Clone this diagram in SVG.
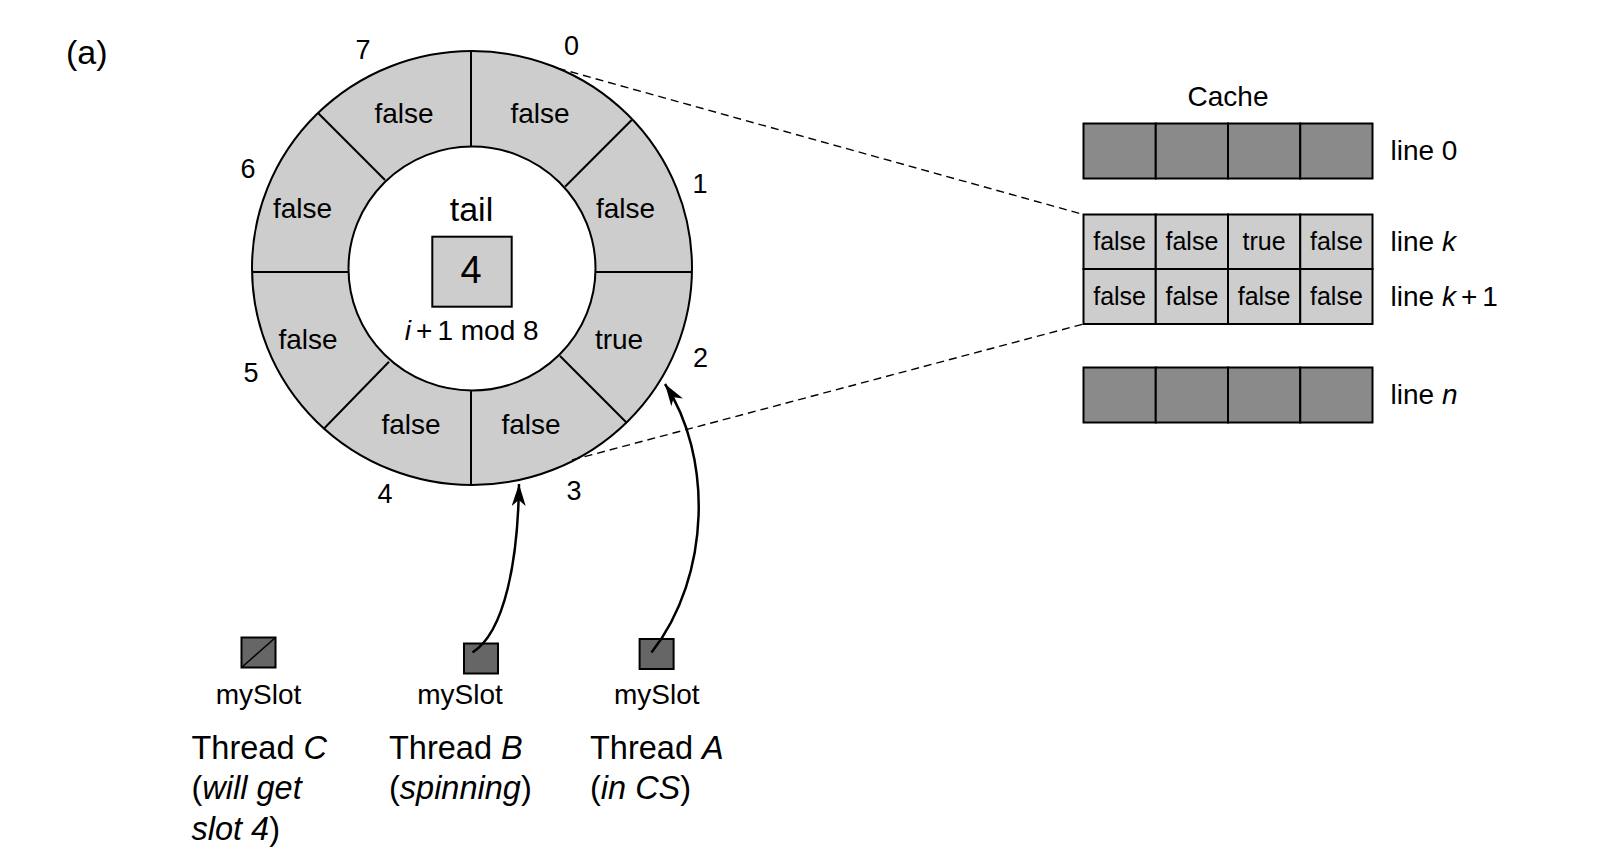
<svg xmlns="http://www.w3.org/2000/svg" width="1603" height="868" viewBox="0 0 1603 868">
<style>
text{font-family:"Liberation Sans",Arial,sans-serif;fill:#000}
.ring{font-size:28px;text-anchor:middle}
.num{font-size:27px;text-anchor:middle}
.cell{font-size:25px;text-anchor:middle}
.lbl{font-size:28px}
.thr{font-size:32.5px}
.ms{font-size:28px;text-anchor:middle}
.it{font-style:italic}
.div{stroke:#000;stroke-width:2;fill:none}
.light{fill:#cdcdcd;stroke:#000;stroke-width:2}
.dark{fill:#8a8a8a;stroke:#000;stroke-width:2}
.slot{fill:#666;stroke:#000;stroke-width:2}
.dash{stroke:#000;stroke-width:1.4;stroke-dasharray:8 5;fill:none}
.arr{stroke:#000;stroke-width:2.5;fill:none;marker-end:url(#ah)}
</style>
<defs>
<marker id="ah" markerUnits="userSpaceOnUse" markerWidth="24" markerHeight="14" refX="22" refY="7" orient="auto">
<path d="M0,0 L22,7 L0,14 L6,7 z" fill="#000"/>
</marker>
</defs>
<rect width="1603" height="868" fill="#fff"/>
<text x="66" y="64" style="font-size:34px">(a)</text>
<g id="ring">
<ellipse cx="472" cy="268" rx="220" ry="217" class="light"/>
<ellipse cx="472" cy="268.5" rx="123.5" ry="122" fill="#fff" stroke="#000" stroke-width="2"/>
<line x1="471" y1="51" x2="471" y2="146.5" class="div"/>
<line x1="471" y1="390.5" x2="471" y2="485" class="div"/>
<line x1="252" y1="272" x2="348.5" y2="272" class="div"/>
<line x1="595.5" y1="272" x2="692" y2="272" class="div"/>
<line x1="565" y1="186.7" x2="631.7" y2="120" class="div"/>
<line x1="385" y1="180" x2="318.3" y2="113.3" class="div"/>
<line x1="389" y1="361.7" x2="324.3" y2="428.3" class="div"/>
<line x1="560" y1="356" x2="626.7" y2="422.7" class="div"/>
<text class="ring" x="404" y="122.5">false</text>
<text class="ring" x="540" y="122.5">false</text>
<text class="ring" x="302.5" y="217.5">false</text>
<text class="ring" x="625.5" y="217.5">false</text>
<text class="ring" x="308" y="348.5">false</text>
<text class="ring" x="619" y="348.5">true</text>
<text class="ring" x="411" y="434">false</text>
<text class="ring" x="531" y="434">false</text>
<text class="num" x="363" y="59">7</text>
<text class="num" x="571.5" y="55">0</text>
<text class="num" x="248" y="177.5">6</text>
<text class="num" x="700" y="193">1</text>
<text class="num" x="251" y="382">5</text>
<text class="num" x="700.5" y="366.5">2</text>
<text class="num" x="385" y="503">4</text>
<text class="num" x="574" y="499.5">3</text>
</g>
<g id="tail">
<text x="471.5" y="220.5" style="font-size:34px;text-anchor:middle">tail</text>
<rect x="432.3" y="236.7" width="79.4" height="70" class="light"/>
<text x="471" y="282.5" style="font-size:38px;text-anchor:middle">4</text>
<text x="471.7" y="340" style="font-size:28px;text-anchor:middle"><tspan class="it">i</tspan><tspan dx="5">+</tspan><tspan dx="5">1 mod 8</tspan></text>
</g>
<g id="cache">
<text x="1228" y="105.5" class="lbl" text-anchor="middle">Cache</text>
<g id="line0">
<rect x="1083.5" y="123.5" width="72.25" height="55" class="dark"/>
<rect x="1155.75" y="123.5" width="72.25" height="55" class="dark"/>
<rect x="1228" y="123.5" width="72.25" height="55" class="dark"/>
<rect x="1300.25" y="123.5" width="72.25" height="55" class="dark"/>
<text x="1390.5" y="160" class="lbl">line 0</text>
</g>
<g id="linek">
<rect x="1083.5" y="214.5" width="72.25" height="54.5" class="light"/>
<rect x="1155.75" y="214.5" width="72.25" height="54.5" class="light"/>
<rect x="1228" y="214.5" width="72.25" height="54.5" class="light"/>
<rect x="1300.25" y="214.5" width="72.25" height="54.5" class="light"/>
<text class="cell" x="1119.6" y="250">false</text>
<text class="cell" x="1191.9" y="250">false</text>
<text class="cell" x="1264.1" y="250">true</text>
<text class="cell" x="1336.4" y="250">false</text>
<text x="1390.5" y="251" class="lbl">line <tspan class="it">k</tspan></text>
</g>
<g id="linek1">
<rect x="1083.5" y="269" width="72.25" height="55" class="light"/>
<rect x="1155.75" y="269" width="72.25" height="55" class="light"/>
<rect x="1228" y="269" width="72.25" height="55" class="light"/>
<rect x="1300.25" y="269" width="72.25" height="55" class="light"/>
<text class="cell" x="1119.6" y="305">false</text>
<text class="cell" x="1191.9" y="305">false</text>
<text class="cell" x="1264.1" y="305">false</text>
<text class="cell" x="1336.4" y="305">false</text>
<text x="1390.5" y="305.5" class="lbl">line <tspan class="it">k</tspan><tspan dx="5">+</tspan><tspan dx="5">1</tspan></text>
</g>
<g id="linen">
<rect x="1083.5" y="367.5" width="72.25" height="55" class="dark"/>
<rect x="1155.75" y="367.5" width="72.25" height="55" class="dark"/>
<rect x="1228" y="367.5" width="72.25" height="55" class="dark"/>
<rect x="1300.25" y="367.5" width="72.25" height="55" class="dark"/>
<text x="1390.5" y="403.5" class="lbl">line <tspan class="it">n</tspan></text>
</g>
</g>
<g id="threadC">
<rect x="241.5" y="637.5" width="34" height="30" class="slot"/>
<line x1="241.5" y1="667.5" x2="275.5" y2="637.5" stroke="#000" stroke-width="1.5"/>
<text class="ms" x="258.6" y="704">mySlot</text>
<text class="thr" x="191.5" y="759">Thread <tspan class="it">C</tspan></text>
<text class="thr" x="191.5" y="799">(<tspan class="it">will get</tspan></text>
<text class="thr" x="191.5" y="840"><tspan class="it">slot 4</tspan>)</text>
</g>
<g id="threadB">
<rect x="464" y="643.5" width="34" height="30" class="slot"/>
<text class="ms" x="460" y="704">mySlot</text>
<text class="thr" x="389" y="759">Thread <tspan class="it">B</tspan></text>
<text class="thr" x="389" y="799">(<tspan class="it">spinning</tspan>)</text>
</g>
<g id="threadA">
<rect x="639.6" y="639" width="34" height="30" class="slot"/>
<text class="ms" x="656.8" y="704">mySlot</text>
<text class="thr" x="590" y="759">Thread <tspan class="it">A</tspan></text>
<text class="thr" x="590" y="799">(<tspan class="it">in CS</tspan>)</text>
</g>
<g id="connectors">
<line x1="558" y1="68.3" x2="1083.5" y2="214.5" class="dash"/>
<line x1="572" y1="460" x2="1083.5" y2="324" class="dash"/>
<path d="M472.5,652.5 C505,632 518,560 519,484" class="arr"/>
<path d="M651.5,652.5 C712,575 712,455 665,384" class="arr"/>
</g>
</svg>
